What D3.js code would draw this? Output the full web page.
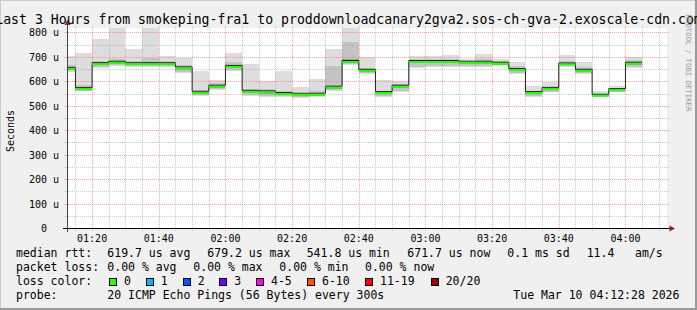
<!DOCTYPE html>
<html>
<head>
<meta charset="utf-8">
<script src="https://cdn.jsdelivr.net/npm/d3@7"></script>
<style>
  body { margin: 0; background: #f0f0f0; }
  text { font-family: "DejaVu Sans Mono", monospace; fill: #000; }
</style>
</head>
<body>
<div id="vis"></div>
<script>
// svg properties
var svgWidth = 697;
var svgHeight = 310;

// plot area (rrdtool canvas)
var plot = {left: 67, right: 667, top: 28, bottom: 228};

// time range of the graph, UTC
var endTime = new Date(Date.UTC(2026, 2, 10, 4, 12, 28));
var startTime = new Date(endTime.getTime() - 3 * 3600 * 1000);
var firstBin = new Date(Date.UTC(2026, 2, 10, 1, 10)); // start of first 5 min step

// median rtt per 5 minute step, in us
var medians = [651, 568, 670, 676, 670, 670, 670, 653, 553, 578, 659, 557, 555, 548, 545, 545, 574, 679,
               643, 552, 578, 679, 679, 679, 676, 676, 672, 646, 552, 568, 669, 643, 541, 564, 672];
// smoke: lowest / highest ping
var mins = [640, 559, 653, 661, 657, 657, 657, 635, 541, 564, 643, 541, 537, 537, 531, 534, 561, 668,
            632, 537, 555, 654, 659, 657, 657, 659, 662, 632, 537, 555, 657, 630, 537, 555, 654];
var maxs = [702, 714, 773, 830, 732, 830, 702, 695, 643, 605, 715, 670, 600, 643, 575, 609, 732, 830,
            700, 605, 600, 702, 702, 707, 691, 711, 691, 681, 582, 596, 709, 681, 561, 582, 698];
// smoke: inner bands
var p10 = [643, 562, 658, 665, 662, 662, 662, 640, 545, 568, 648, 546, 542, 541, 536, 538, 565, 671,
           636, 542, 560, 660, 664, 662, 662, 664, 665, 636, 541, 558, 661, 634, 538, 558, 660];
var p90 = [668, 585, 685, 690, 683, 695, 683, 668, 565, 592, 680, 568, 568, 560, 553, 560, 663, 760,
           655, 562, 590, 690, 690, 692, 685, 692, 682, 664, 562, 580, 685, 660, 548, 572, 688];
var q25 = [647, 564, 666, 672, 666, 666, 666, 648, 549, 573, 654, 551, 550, 544, 541, 541, 570, 675,
           639, 547, 574, 675, 675, 675, 671, 672, 668, 641, 547, 563, 665, 639, 539, 560, 668];
var q75 = [658, 575, 678, 683, 677, 678, 677, 660, 558, 585, 668, 562, 560, 553, 550, 550, 582, 690,
           650, 557, 584, 684, 684, 685, 681, 682, 677, 652, 557, 574, 676, 649, 545, 568, 678];

// axis ticks
var yTicks = [0, 100, 200, 300, 400, 500, 600, 700, 800];
var yMinorTicks = [50, 150, 250, 350, 450, 550, 650, 750];

// legend
var titleText = "Last 3 Hours from smokeping-fra1 to proddownloadcanary2gva2.sos-ch-gva-2.exoscale-cdn.com";
var rttStats = ["619.7 us avg", "679.2 us max", "541.8 us min", "671.7 us now", "0.1 ms sd", "11.4", "am/s"];
var lossStats = ["0.00 % avg", "0.00 % max", "0.00 % min", "0.00 % now"];
var lossLabels = ["0", "1", "2", "3", "4-5", "6-10", "11-19", "20/20"];
var lossColors = ["#26ff00", "#00b8ff", "#0059ff", "#7000ff", "#ff00ff", "#ff5500", "#ff0000", "#a00000"];
var probeText = "20 ICMP Echo Pings (56 Bytes) every 300s";
var stampText = "Tue Mar 10 04:12:28 2026";

// step start / end times
var binStarts = medians.map(function (d, i) { return d3.utcMinute.offset(firstBin, 5 * i); });
var binEnds = medians.map(function (d, i) { return d3.utcMinute.offset(firstBin, 5 * (i + 1)); });

// scales
var xScale = d3.scaleUtc().domain([startTime, endTime]).range([plot.left, plot.right]);
var yScale = d3.scaleLinear().domain([0, 818.2]).range([plot.bottom, plot.top]);

var svg = d3.select('#vis').append('svg')
  .attr('width', svgWidth)
  .attr('height', svgHeight);

// background + frame
svg.append('rect').attr('width', svgWidth).attr('height', svgHeight).attr('fill', '#f0f0f0');
svg.append('path').attr('d', 'M0,310V0H697').attr('fill', 'none').attr('stroke', '#cbcbcb').attr('stroke-width', 2);
svg.append('path').attr('d', 'M0,309H696V0').attr('fill', 'none').attr('stroke', '#999').attr('stroke-width', 2);

// canvas
svg.append('rect')
  .attr('x', plot.left).attr('y', plot.top)
  .attr('width', plot.right - plot.left).attr('height', plot.bottom - plot.top)
  .attr('fill', 'white');

svg.append('clipPath').attr('id', 'plotClip')
  .append('rect')
  .attr('x', plot.left).attr('y', plot.top)
  .attr('width', plot.right - plot.left).attr('height', plot.bottom - plot.top);

// smoke
var smoke = svg.append('g').attr('clip-path', 'url(#plotClip)').attr('shape-rendering', 'crispEdges');
var bands = [
  {lo: mins, hi: maxs, fill: '#dddddd'},
  {lo: p10, hi: p90, fill: '#c4c4c4'},
  {lo: q25, hi: q75, fill: '#9d9d9d'}
];
bands.forEach(function (b) {
  smoke.selectAll(null)
    .data(medians)
    .enter().append('rect')
    .attr('x', function (d, i) { return xScale(binStarts[i]); })
    .attr('width', function (d, i) { return xScale(binEnds[i]) - xScale(binStarts[i]); })
    .attr('y', function (d, i) { return yScale(b.hi[i]); })
    .attr('height', function (d, i) { return yScale(b.lo[i]) - yScale(b.hi[i]); })
    .attr('fill', b.fill);
});

// grid
var grid = svg.append('g');
var minorTimes = d3.utcMinute.every(5).range(startTime, endTime);
minorTimes.forEach(function (t) {
  var major = t.getUTCMinutes() % 20 === 0;
  var x = Math.round(xScale(t)) + 0.5;
  grid.append('line')
    .attr('x1', x).attr('x2', x)
    .attr('y1', plot.top - 2).attr('y2', plot.bottom + 3)
    .attr('stroke', major ? 'rgba(255,95,95,0.56)' : 'rgba(160,160,160,0.55)')
    .attr('stroke-dasharray', '1,1');
});
yMinorTicks.concat(yTicks.slice(1)).forEach(function (v) {
  var major = v % 100 === 0;
  var y = Math.round(yScale(v)) + 0.5;
  grid.append('line')
    .attr('x1', plot.left - 3).attr('x2', plot.right + 3)
    .attr('y1', y).attr('y2', y)
    .attr('stroke', major ? 'rgba(255,95,95,0.56)' : 'rgba(160,160,160,0.55)')
    .attr('stroke-dasharray', '1,1');
});

// median line
var stepPts = medians.map(function (d, i) { return [binStarts[i], d]; });
stepPts.push([binEnds[binEnds.length - 1], medians[medians.length - 1]]);
var stepLine = d3.line()
  .x(function (d) { return xScale(d[0]); })
  .y(function (d) { return yScale(d[1]) - 1.5; })
  .curve(d3.curveStepAfter);
svg.append('path')
  .datum(stepPts)
  .attr('clip-path', 'url(#plotClip)')
  .attr('d', stepLine)
  .attr('fill', 'none')
  .attr('stroke', '#202020')
  .attr('stroke-width', 1);

svg.append('g').attr('clip-path', 'url(#plotClip)')
  .selectAll('rect')
  .data(medians)
  .enter().append('rect')
  .attr('x', function (d, i) { return xScale(binStarts[i]); })
  .attr('width', function (d, i) { return xScale(binEnds[i]) - xScale(binStarts[i]); })
  .attr('y', function (d) { return yScale(d) - 1; })
  .attr('height', 2)
  .attr('fill', lossColors[0]);

// axes
svg.append('line').attr('x1', plot.left - 4).attr('x2', plot.right + 3)
  .attr('y1', plot.bottom + 0.5).attr('y2', plot.bottom + 0.5)
  .attr('stroke', '#000');
svg.append('line').attr('x1', plot.left + 0.5).attr('x2', plot.left + 0.5)
  .attr('y1', plot.bottom + 4).attr('y2', plot.top - 3)
  .attr('stroke', '#444');
svg.append('path').attr('d', 'M64.5,25L70.5,25L67.5,19.5Z').attr('fill', '#9b1f1f');
svg.append('path').attr('d', 'M669.5,225.5L669.5,231.5L675,228.5Z').attr('fill', '#9b1f1f');

// y labels
svg.append('g').selectAll('text')
  .data(yTicks)
  .enter().append('text')
  .attr('x', 59)
  .attr('y', function (d) { return yScale(d) + 4; })
  .attr('text-anchor', 'end')
  .style('white-space', 'pre')
  .attr('font-size', '10px')
  .text(function (d) { return d === 0 ? '0  ' : d + ' u'; });

// x labels
var timeFmt = d3.utcFormat('%H:%M');
svg.append('g').selectAll('text')
  .data(d3.utcMinute.every(20).range(startTime, endTime))
  .enter().append('text')
  .attr('x', function (d) { return xScale(d); })
  .attr('y', 241.5)
  .attr('text-anchor', 'middle')
  .attr('font-size', '10px')
  .text(function (d) { return timeFmt(d); });

// title
svg.append('text')
  .attr('x', svgWidth / 2).attr('y', 24)
  .attr('text-anchor', 'middle')
  .attr('font-size', '13.2px')
  .text(titleText);

// unit label
svg.append('text')
  .attr('transform', 'translate(13.5,131) rotate(-90)')
  .attr('text-anchor', 'middle')
  .attr('font-size', '10px')
  .text('Seconds');

// watermark
svg.append('text')
  .attr('transform', 'translate(685.5,63) rotate(90)')
  .attr('text-anchor', 'middle')
  .attr('font-size', '7.3px')
  .style('fill', '#999')
  .text('RRDTOOL / TOBI OETIKER');

// legend
var legend = svg.append('g').attr('font-size', '11.5px').style('white-space', 'pre');
legend.append('text').attr('x', 16).attr('y', 257).text('median rtt:');
var rttX = [107.3, 207.3, 306.7, 407.3, 507.3, 586.7, 635];
rttStats.forEach(function (s, i) {
  legend.append('text').attr('x', rttX[i]).attr('y', 257).text(s);
});
legend.append('text').attr('x', 16).attr('y', 271).text('packet loss:');
var lossX = [107.3, 193.3, 279.3, 365];
lossStats.forEach(function (s, i) {
  legend.append('text').attr('x', lossX[i]).attr('y', 271).text(s);
});
legend.append('text').attr('x', 16).attr('y', 285).text('loss color:');
var boxX = [109, 145.7, 182.7, 219.3, 256, 307, 365, 430.7];
lossLabels.forEach(function (s, i) {
  legend.append('rect')
    .attr('x', Math.round(boxX[i]) + 0.5).attr('y', 278.5)
    .attr('width', 7).attr('height', 7)
    .attr('fill', lossColors[i])
    .attr('stroke', '#000');
  legend.append('text').attr('x', boxX[i] + 15).attr('y', 285).text(s);
});
legend.append('text').attr('x', 16).attr('y', 299).text('probe:');
legend.append('text').attr('x', 107.3).attr('y', 299).text(probeText);
legend.append('text').attr('x', 513.3).attr('y', 299).text(stampText);
</script>
</body>
</html>
